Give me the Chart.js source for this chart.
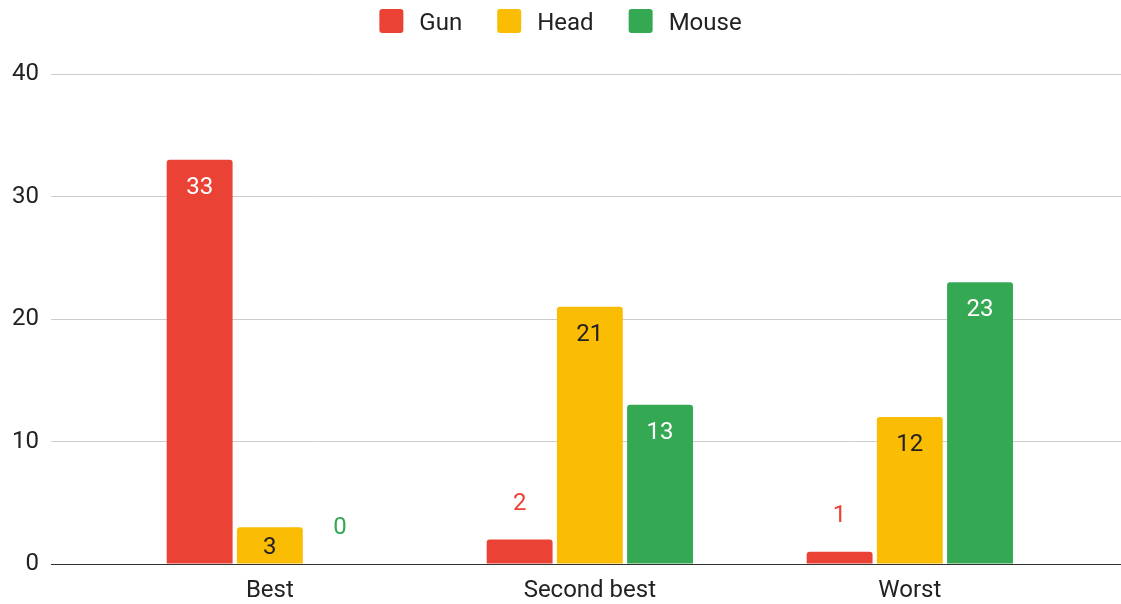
<!DOCTYPE html>
<html>
<head>
<meta charset="utf-8">
<script src="https://cdn.jsdelivr.net/npm/chart.js@4.4.0/dist/chart.umd.min.js"></script>
<style>
  html, body { margin: 0; padding: 0; background: #ffffff; }
  #wrap { width: 1121px; height: 604px; }
</style>
</head>
<body>
<div id="wrap"><canvas id="chart" width="1121" height="604"></canvas></div>
<script>
// Survey results: how each item was ranked
const categories = ['Best', 'Second best', 'Worst'];
const seriesNames = ['Gun', 'Head', 'Mouse'];
const gunValues = [33, 2, 1];
const headValues = [3, 21, 12];
const mouseValues = [0, 13, 23];
const yTickValues = [0, 10, 20, 30, 40];

const seriesColors = ['#EA4335', '#FBBC04', '#34A853'];
const insideLabelColors = ['#ffffff', '#222222', '#ffffff'];
const FONT_FAMILY = 'Roboto, "Noto Sans", Arial, sans-serif';
const FONT_SIZE = 24;
const TEXT_COLOR = '#222222';

// Value labels: inside the top of the bar when it is tall enough, otherwise above it
const valueLabels = {
  id: 'valueLabels',
  afterDatasetsDraw(chart) {
    const ctx = chart.ctx;
    ctx.save();
    ctx.font = FONT_SIZE + 'px ' + FONT_FAMILY;
    ctx.textAlign = 'center';
    ctx.textBaseline = 'alphabetic';
    chart.data.datasets.forEach((ds, i) => {
      const meta = chart.getDatasetMeta(i);
      meta.data.forEach((bar, j) => {
        const v = ds.data[j];
        const h = bar.base - bar.y;
        let cy, color;
        if (h >= 30) {
          cy = bar.y + Math.min(25.5, h / 2);
          color = insideLabelColors[i];
        } else {
          cy = bar.y - 38.5;
          color = seriesColors[i];
        }
        ctx.fillStyle = color;
        ctx.fillText(String(v), bar.x, cy + 0.355 * FONT_SIZE);
      });
    });
    ctx.restore();
  }
};

// Centered legend row with rounded colour swatches
const topLegend = {
  id: 'topLegend',
  afterDraw(chart) {
    const ctx = chart.ctx;
    const box = 24, textGap = 16, itemGap = 35, centerY = 21;
    ctx.save();
    ctx.font = FONT_SIZE + 'px ' + FONT_FAMILY;
    const items = chart.data.datasets.map(ds => ({
      text: ds.label,
      color: ds.backgroundColor,
      w: ctx.measureText(ds.label).width
    }));
    const total = items.reduce((s, it) => s + box + textGap + it.w, 0) + itemGap * (items.length - 1);
    let x = (chart.width - total) / 2;
    items.forEach(it => {
      ctx.fillStyle = it.color;
      ctx.beginPath();
      ctx.roundRect(x, centerY - box / 2, box, box, 3);
      ctx.fill();
      ctx.fillStyle = TEXT_COLOR;
      ctx.textAlign = 'left';
      ctx.textBaseline = 'alphabetic';
      ctx.fillText(it.text, x + box + textGap, centerY + 0.355 * FONT_SIZE);
      x += box + textGap + it.w + itemGap;
    });
    ctx.restore();
  }
};

const seriesValues = [gunValues, headValues, mouseValues];

new Chart(document.getElementById('chart'), {
  type: 'bar',
  data: {
    labels: categories,
    datasets: seriesNames.map((name, i) => ({
      label: name,
      data: seriesValues[i],
      backgroundColor: seriesColors[i],
      borderWidth: 0,
      borderRadius: 3,
      borderSkipped: 'start',
      categoryPercentage: 0.6583,
      barPercentage: 0.9384
    }))
  },
  options: {
    responsive: false,
    animation: false,
    devicePixelRatio: 1,
    layout: { padding: { top: 74, left: 0, right: 0, bottom: 0 } },
    plugins: {
      legend: { display: false },
      tooltip: { enabled: false },
      title: { display: false }
    },
    scales: {
      x: {
        type: 'category',
        offset: true,
        grid: { display: false, drawTicks: false },
        border: { display: true, color: '#333333', width: 1 },
        ticks: {
          color: TEXT_COLOR,
          font: { family: FONT_FAMILY, size: FONT_SIZE },
          padding: 13,
          maxRotation: 0,
          autoSkip: false
        },
        // widen the value range so the groups sit inward from the plot edges
        afterBuildTicks(scale) {
          scale._startValue = -0.684;
          scale._valueRange = 3.344;
        },
        afterFit(scale) { scale.height = 40; }
      },
      y: {
        min: 0,
        max: 40,
        grid: {
          drawTicks: false,
          color: ctx => (ctx.tick && ctx.tick.value === 0 ? '#333333' : '#cccccc'),
          lineWidth: 1
        },
        border: { display: false },
        ticks: {
          color: TEXT_COLOR,
          font: { family: FONT_FAMILY, size: FONT_SIZE },
          padding: 12
        },
        afterBuildTicks(scale) {
          scale.ticks = yTickValues.map(v => ({ value: v }));
        },
        afterFit(scale) { scale.width = 51; }
      }
    }
  },
  plugins: [valueLabels, topLegend]
});
</script>
</body>
</html>
